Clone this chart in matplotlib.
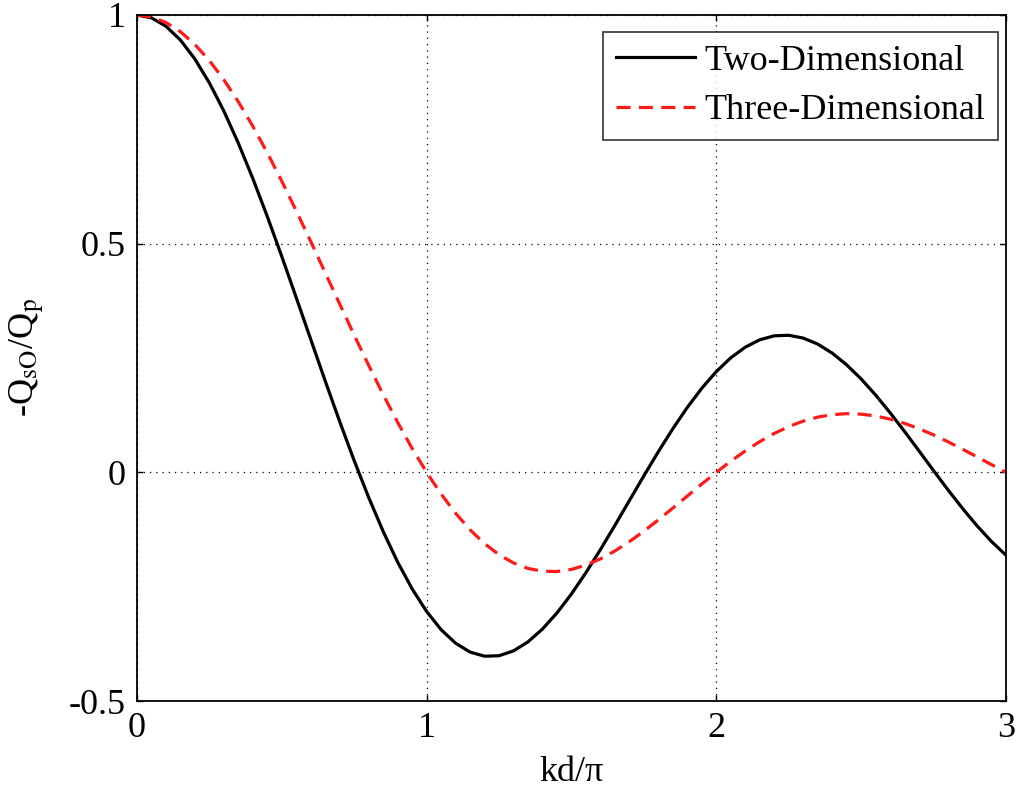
import matplotlib.pyplot as plt

plt.rcParams["font.family"] = ["Liberation Serif", "DejaVu Serif"]
plt.rcParams["mathtext.fontset"] = "stix"

# kd/pi sample points
kd = [0.0, 0.05, 0.1, 0.15, 0.2, 0.25, 0.3, 0.35, 0.4, 0.45,
      0.5, 0.55, 0.6, 0.65, 0.7, 0.75, 0.8, 0.85, 0.9, 0.95,
      1.0, 1.05, 1.1, 1.15, 1.2, 1.25, 1.3, 1.35, 1.4, 1.45,
      1.5, 1.55, 1.6, 1.65, 1.7, 1.75, 1.8, 1.85, 1.9, 1.95,
      2.0, 2.05, 2.1, 2.15, 2.2, 2.25, 2.3, 2.35, 2.4, 2.45,
      2.5, 2.55, 2.6, 2.65, 2.7, 2.75, 2.8, 2.85, 2.9, 2.95, 3.0]

two_dim = [1.0, 0.9938, 0.9755, 0.9453, 0.9037, 0.8516, 0.7900, 0.7198, 0.6425, 0.5594,
           0.4720, 0.3819, 0.2906, 0.1997, 0.1109, 0.0255, -0.0549, -0.1292, -0.1962, -0.2548,
           -0.3042, -0.3440, -0.3736, -0.3930, -0.4020, -0.4010, -0.3903, -0.3706, -0.3426, -0.3074,
           -0.2659, -0.2193, -0.1689, -0.1159, -0.0617, -0.0076, 0.0452, 0.0954, 0.1420, 0.1839,
           0.2203, 0.2504, 0.2737, 0.2898, 0.2985, 0.2997, 0.2936, 0.2805, 0.2608, 0.2351,
           0.2043, 0.1691, 0.1304, 0.0893, 0.0468, 0.0039, -0.0383, -0.0788, -0.1167, -0.1511, -0.1812]

three_dim = [1.0, 0.9959, 0.9836, 0.9634, 0.9355, 0.9003, 0.8584, 0.8103, 0.7568, 0.6987,
             0.6366, 0.5716, 0.5046, 0.4363, 0.3679, 0.3001, 0.2339, 0.1700, 0.1093, 0.0524,
             0.0, -0.0474, -0.0894, -0.1257, -0.1559, -0.1801, -0.1981, -0.2101, -0.2162, -0.2168,
             -0.2122, -0.2028, -0.1892, -0.1719, -0.1515, -0.1286, -0.1039, -0.0781, -0.0518, -0.0255,
             0.0, 0.0243, 0.0468, 0.0672, 0.0851, 0.1000, 0.1120, 0.1207, 0.1261, 0.1283,
             0.1273, 0.1233, 0.1164, 0.1070, 0.0954, 0.0819, 0.0668, 0.0507, 0.0339, 0.0169, 0.0]

x_ticks = [0, 1, 2, 3]
y_ticks = [-0.5, 0, 0.5, 1]
y_tick_labels = ["-0.5", "0", "0.5", "1"]

fig = plt.figure(figsize=(10.16, 7.89), dpi=100)
ax = fig.add_axes([0.1348, 0.1115, 0.8553, 0.8695])

ax.plot(kd, two_dim, color="black", lw=2.3, label="Two-Dimensional")
ax.plot(kd, three_dim, color="#ff1a1a", lw=2.3, linestyle=(0, (4.4, 2.6)), label="Three-Dimensional")

ax.set_xlim(0, 3)
ax.set_ylim(-0.5, 1)
ax.set_xticks(x_ticks)
ax.set_xticklabels([str(t) for t in x_ticks])
ax.set_yticks(y_ticks)
ax.set_yticklabels(y_tick_labels)
ax.grid(axis="both", linestyle=(0, (1, 4)), color="black", lw=0.9)
ax.tick_params(axis="both", direction="in", length=4, width=1, labelsize=26,
               top=True, right=True, pad=8)
for s in ax.spines.values():
    s.set_linewidth(1.3)

ax.set_xlabel("kd/\u03c0", fontsize=26, labelpad=8)
ax.set_ylabel("-Q$_{\\mathrm{sO}}$/Q$_{\\mathrm{p}}$", fontsize=26, labelpad=16)

leg = ax.legend(loc="upper right", bbox_to_anchor=(0.9908, 0.9752), borderaxespad=0,
                fontsize=26, frameon=True, fancybox=False,
                edgecolor="black", handlelength=2.2, handletextpad=0.25,
                borderpad=0.35, labelspacing=0.45)
leg.get_frame().set_linewidth(1.2)

fig.savefig("out.png", dpi=100)
